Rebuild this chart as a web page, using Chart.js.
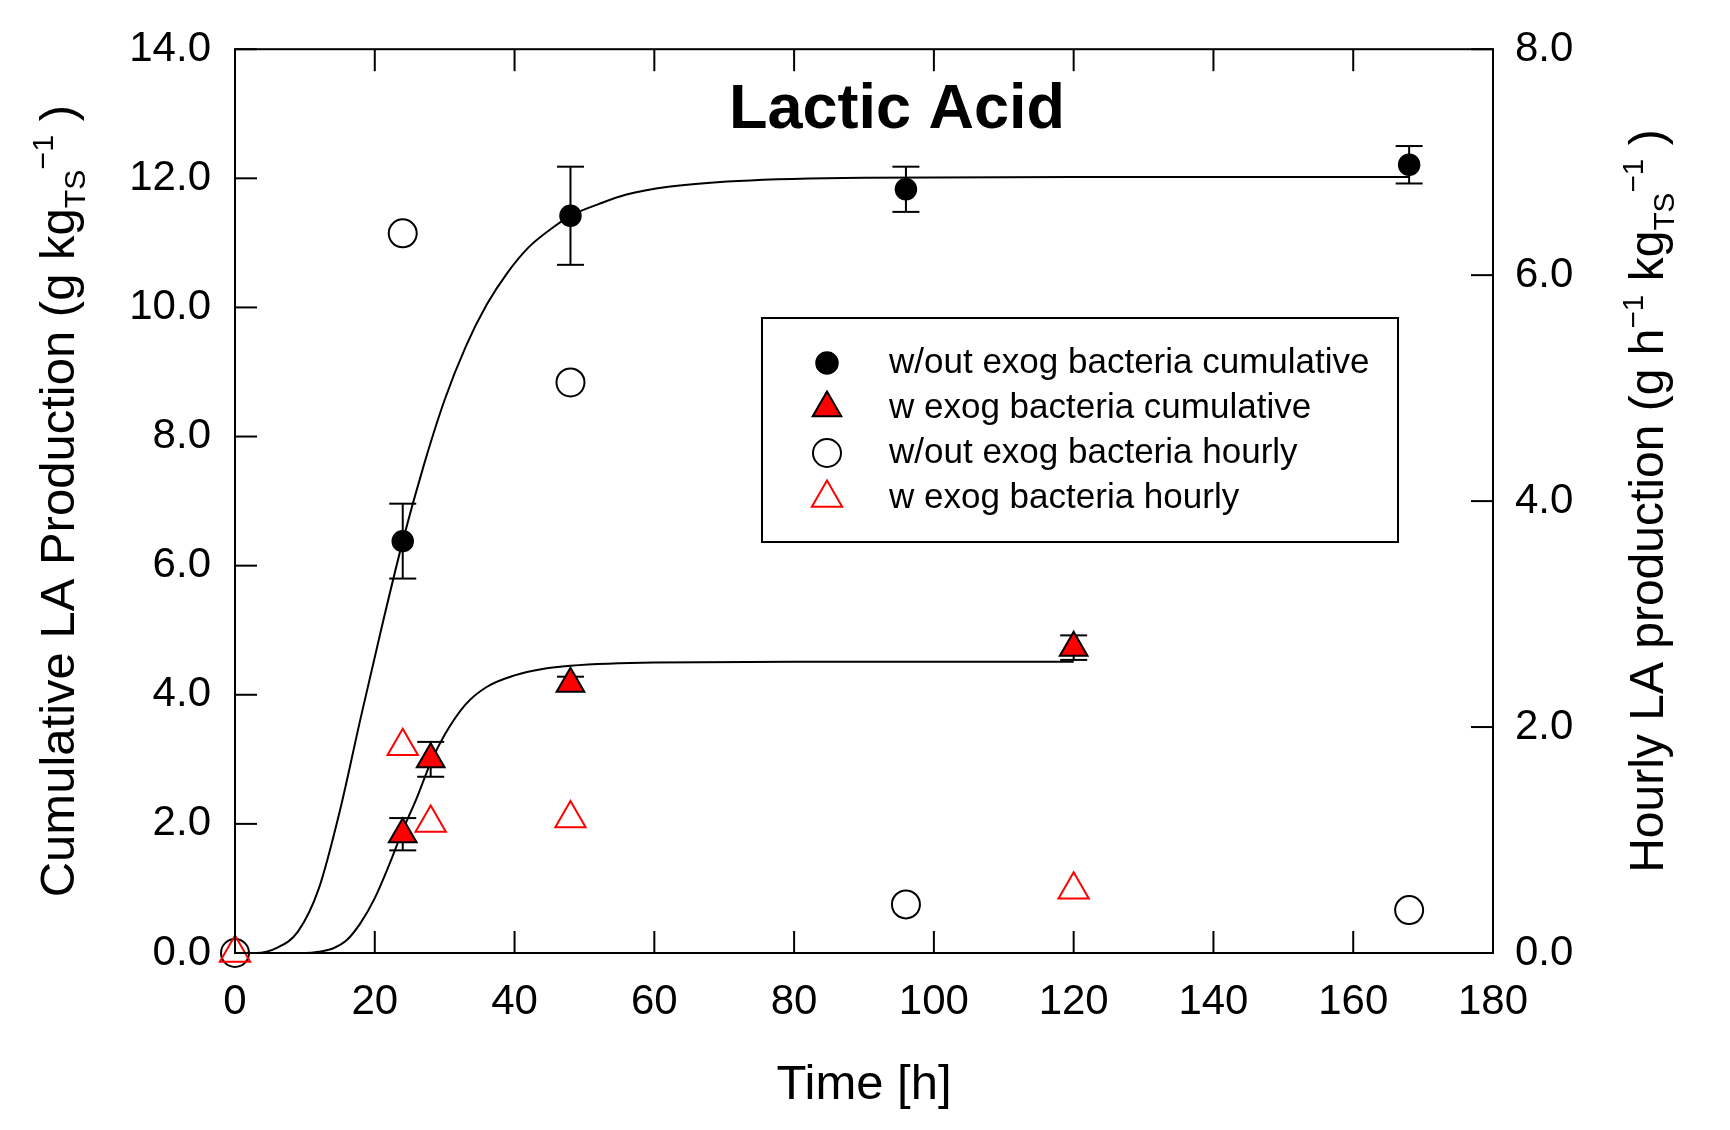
<!DOCTYPE html>
<html>
<head>
<meta charset="utf-8">
<script src="https://cdn.jsdelivr.net/npm/chart.js@4.4.1/dist/chart.umd.min.js"></script>
<style>
  html, body { margin: 0; padding: 0; background: #fff; }
  #wrap { width: 1730px; height: 1130px; }
</style>
</head>
<body>
<div id="wrap"><canvas id="laChart" width="1730" height="1130"></canvas></div>
<script>
const FONT = '"Liberation Sans", Arial, Helvetica, sans-serif';

// cumulative LA (left axis), mean +/- error
const cumTimeNoBac = [24, 48, 96, 168];
const cumNoBac = [6.38, 11.42, 11.83, 12.21];
const cumNoBacErr = [0.58, 0.76, 0.35, 0.29];

const cumTimeBac = [24, 28, 48, 120];
const cumBac = [1.84, 3.00, 4.17, 4.73];
const cumBacErr = [0.25, 0.27, 0.11, 0.19];

// hourly LA (right axis)
const hrTimeNoBac = [0, 24, 48, 96, 168];
const hrNoBac = [0, 6.37, 5.05, 0.43, 0.38];

const hrTimeBac = [0, 24, 28, 48, 120];
const hrBac = [0, 1.83, 1.15, 1.19, 0.56];

// fitted curves
const fitTimeNoBac = [0, 3, 6, 9, 12, 15, 18, 21, 24, 27, 30, 33, 36, 39, 42, 45, 48, 52, 56, 62, 72, 90, 120, 168];
const fitNoBac = [0, 0, 0.08, 0.33, 1.0, 2.2, 3.65, 5.05, 6.38, 7.55, 8.57, 9.39, 10.04, 10.54, 10.93, 11.2, 11.42, 11.6, 11.75, 11.87, 11.96, 12.01, 12.02, 12.02];

const fitTimeBac = [0, 6, 10, 12, 14, 16, 18, 20, 22, 24, 26, 28, 30, 33, 36, 40, 44, 48, 60, 80, 120];
const fitBac = [0, 0, 0, 0.02, 0.07, 0.2, 0.47, 0.85, 1.35, 1.9, 2.4, 2.95, 3.38, 3.85, 4.12, 4.3, 4.4, 4.45, 4.5, 4.51, 4.51];

const legendLabels = [
  'w/out exog bacteria cumulative',
  'w exog bacteria cumulative',
  'w/out exog bacteria hourly',
  'w exog bacteria hourly'
];

const TICK = 22;

function pts(xs, ys) {
  return xs.map((x, i) => ({ x: x, y: ys[i] }));
}

function line(ctx, x1, y1, x2, y2) {
  ctx.beginPath();
  ctx.moveTo(x1, y1);
  ctx.lineTo(x2, y2);
  ctx.stroke();
}

function marker(ctx, style, r, x, y, fill, stroke, lw) {
  ctx.save();
  ctx.beginPath();
  if (style === 'circle') {
    ctx.arc(x, y, r, 0, Math.PI * 2);
  } else {
    let rad = 0;
    ctx.moveTo(x + Math.sin(rad) * r, y - Math.cos(rad) * r);
    rad += Math.PI * 2 / 3;
    ctx.lineTo(x + Math.sin(rad) * r, y - Math.cos(rad) * r);
    rad += Math.PI * 2 / 3;
    ctx.lineTo(x + Math.sin(rad) * r, y - Math.cos(rad) * r);
    ctx.closePath();
  }
  if (fill) { ctx.fillStyle = fill; ctx.fill(); }
  ctx.lineWidth = lw;
  ctx.strokeStyle = stroke;
  ctx.stroke();
  ctx.restore();
}

// text with sub/superscripts, centred on (x, y) baseline
function richText(ctx, parts, size, x, y, rotate) {
  const small = size * 0.62;
  ctx.save();
  ctx.translate(x, y);
  if (rotate) ctx.rotate(-Math.PI / 2);
  ctx.textAlign = 'left';
  ctx.textBaseline = 'alphabetic';
  ctx.fillStyle = '#000';
  let total = 0;
  const widths = parts.map(p => {
    ctx.font = (p.s ? small : size) + 'px ' + FONT;
    const w = ctx.measureText(p.t).width;
    total += w;
    return w;
  });
  let cx = -total / 2;
  parts.forEach((p, i) => {
    ctx.font = (p.s ? small : size) + 'px ' + FONT;
    let dy = 0;
    if (p.s === 'sub') dy = size * 0.22;
    if (p.s === 'sup') dy = -size * 0.42;
    ctx.fillText(p.t, cx, dy);
    cx += widths[i];
  });
  ctx.restore();
}

const errorBars = {
  id: 'errorBars',
  beforeDatasetsDraw(chart) {
    const ctx = chart.ctx;
    const x = chart.scales.x, y = chart.scales.y;
    ctx.save();
    ctx.strokeStyle = '#000';
    ctx.lineWidth = 2;
    const draw = (ts, vals, errs) => {
      ts.forEach((t, i) => {
        const px = x.getPixelForValue(t);
        const hi = y.getPixelForValue(vals[i] + errs[i]);
        const lo = y.getPixelForValue(vals[i] - errs[i]);
        line(ctx, px, hi, px, lo);
        line(ctx, px - 13.5, hi, px + 13.5, hi);
        line(ctx, px - 13.5, lo, px + 13.5, lo);
      });
    };
    draw(cumTimeNoBac, cumNoBac, cumNoBacErr);
    draw(cumTimeBac, cumBac, cumBacErr);
    ctx.restore();
  }
};

const frame = {
  id: 'frame',
  afterDraw(chart) {
    const ctx = chart.ctx;
    const { left, right, top, bottom } = chart.chartArea;
    const x = chart.scales.x, y = chart.scales.y, y2 = chart.scales.y2;
    ctx.save();
    ctx.strokeStyle = '#000';
    ctx.lineWidth = 2;
    ctx.strokeRect(left, top, right - left, bottom - top);
    x.ticks.forEach(t => {
      if (t.value <= x.min || t.value >= x.max) return;
      const px = x.getPixelForValue(t.value);
      line(ctx, px, bottom, px, bottom - TICK);
      line(ctx, px, top, px, top + TICK);
    });
    y.ticks.forEach(t => {
      const py = y.getPixelForValue(t.value);
      line(ctx, left, py, left + TICK, py);
    });
    y2.ticks.forEach(t => {
      const py = y2.getPixelForValue(t.value);
      line(ctx, right, py, right - TICK, py);
    });

    // chart title
    ctx.fillStyle = '#000';
    ctx.textAlign = 'center';
    ctx.textBaseline = 'alphabetic';
    ctx.font = 'bold 63px ' + FONT;
    ctx.fillText('Lactic Acid', 897, 128);

    // axis titles
    ctx.font = '49px ' + FONT;
    ctx.fillText('Time [h]', (left + right) / 2, 1099);
    richText(ctx, [
      { t: 'Cumulative LA Production (g kg' },
      { t: 'TS', s: 'sub' },
      { t: '\u22121', s: 'sup' },
      { t: ' )' }
    ], 49, 74, (top + bottom) / 2, true);
    richText(ctx, [
      { t: 'Hourly LA production (g h' },
      { t: '\u22121', s: 'sup' },
      { t: ' kg' },
      { t: 'TS', s: 'sub' },
      { t: '\u22121', s: 'sup' },
      { t: ' )' }
    ], 48, 1663, (top + bottom) / 2, true);

    // legend box
    ctx.lineWidth = 2;
    ctx.strokeRect(762, 318, 636, 224);
    const rows = [363, 408, 453, 498];
    marker(ctx, 'circle', 11, 827, rows[0], '#000', '#000', 1.5);
    marker(ctx, 'triangle', 16.5, 827, rows[1], '#ff0000', '#000', 2);
    marker(ctx, 'circle', 14, 827, rows[2], null, '#000', 2);
    marker(ctx, 'triangle', 17.5, 827, rows[3], null, '#ff0000', 2);
    ctx.font = '35px ' + FONT;
    ctx.textAlign = 'left';
    ctx.textBaseline = 'middle';
    ctx.fillStyle = '#000';
    legendLabels.forEach((s, i) => ctx.fillText(s, 889, rows[i]));
    ctx.restore();
  }
};

const tickFont = { family: FONT, size: 42 };

new Chart(document.getElementById('laChart'), {
  type: 'scatter',
  data: {
    datasets: [
      {
        label: legendLabels[1],
        data: pts(cumTimeBac, cumBac),
        yAxisID: 'y',
        pointStyle: 'triangle',
        pointRadius: 16,
        backgroundColor: '#ff0000',
        borderColor: '#000',
        borderWidth: 2,
        clip: false,
        order: 0
      },
      {
        label: legendLabels[0],
        data: pts(cumTimeNoBac, cumNoBac),
        yAxisID: 'y',
        pointStyle: 'circle',
        pointRadius: 10.5,
        backgroundColor: '#000',
        borderColor: '#000',
        borderWidth: 1.5,
        clip: false,
        order: 1
      },
      {
        label: legendLabels[3],
        data: pts(hrTimeBac, hrBac),
        yAxisID: 'y2',
        pointStyle: 'triangle',
        pointRadius: 17.5,
        backgroundColor: 'rgba(0,0,0,0)',
        borderColor: '#ff0000',
        borderWidth: 2,
        clip: false,
        order: 2
      },
      {
        label: legendLabels[2],
        data: pts(hrTimeNoBac, hrNoBac),
        yAxisID: 'y2',
        pointStyle: 'circle',
        pointRadius: 14,
        backgroundColor: 'rgba(0,0,0,0)',
        borderColor: '#000',
        borderWidth: 2,
        clip: false,
        order: 3
      },
      {
        label: 'fit w/out',
        data: pts(fitTimeNoBac, fitNoBac),
        yAxisID: 'y',
        showLine: true,
        pointRadius: 0,
        borderColor: '#000',
        borderWidth: 2,
        cubicInterpolationMode: 'monotone',
        order: 10
      },
      {
        label: 'fit w',
        data: pts(fitTimeBac, fitBac),
        yAxisID: 'y',
        showLine: true,
        pointRadius: 0,
        borderColor: '#000',
        borderWidth: 2,
        cubicInterpolationMode: 'monotone',
        order: 11
      }
    ]
  },
  options: {
    responsive: false,
    animation: false,
    devicePixelRatio: 1,
    events: [],
    layout: { padding: { top: 47, left: 0, right: 0, bottom: 0 } },
    plugins: {
      legend: { display: false },
      tooltip: { enabled: false }
    },
    scales: {
      x: {
        type: 'linear',
        position: 'bottom',
        min: 0,
        max: 180,
        afterFit: s => { s.height = 177; },
        grid: { display: false, drawTicks: false },
        border: { display: false },
        ticks: { stepSize: 20, autoSkip: false, maxRotation: 0, padding: 24, color: '#000', font: tickFont }
      },
      y: {
        type: 'linear',
        position: 'left',
        min: 0,
        max: 14,
        afterFit: s => { s.width = 235; },
        grid: { display: false, drawTicks: false },
        border: { display: false },
        ticks: { stepSize: 2, padding: 24, color: '#000', font: tickFont, callback: v => v.toFixed(1) }
      },
      y2: {
        type: 'linear',
        position: 'right',
        min: 0,
        max: 8,
        afterFit: s => { s.width = 237; },
        grid: { display: false, drawTicks: false },
        border: { display: false },
        ticks: { stepSize: 2, padding: 22, color: '#000', font: tickFont, callback: v => v.toFixed(1) }
      }
    }
  },
  plugins: [errorBars, frame]
});
</script>
</body>
</html>
